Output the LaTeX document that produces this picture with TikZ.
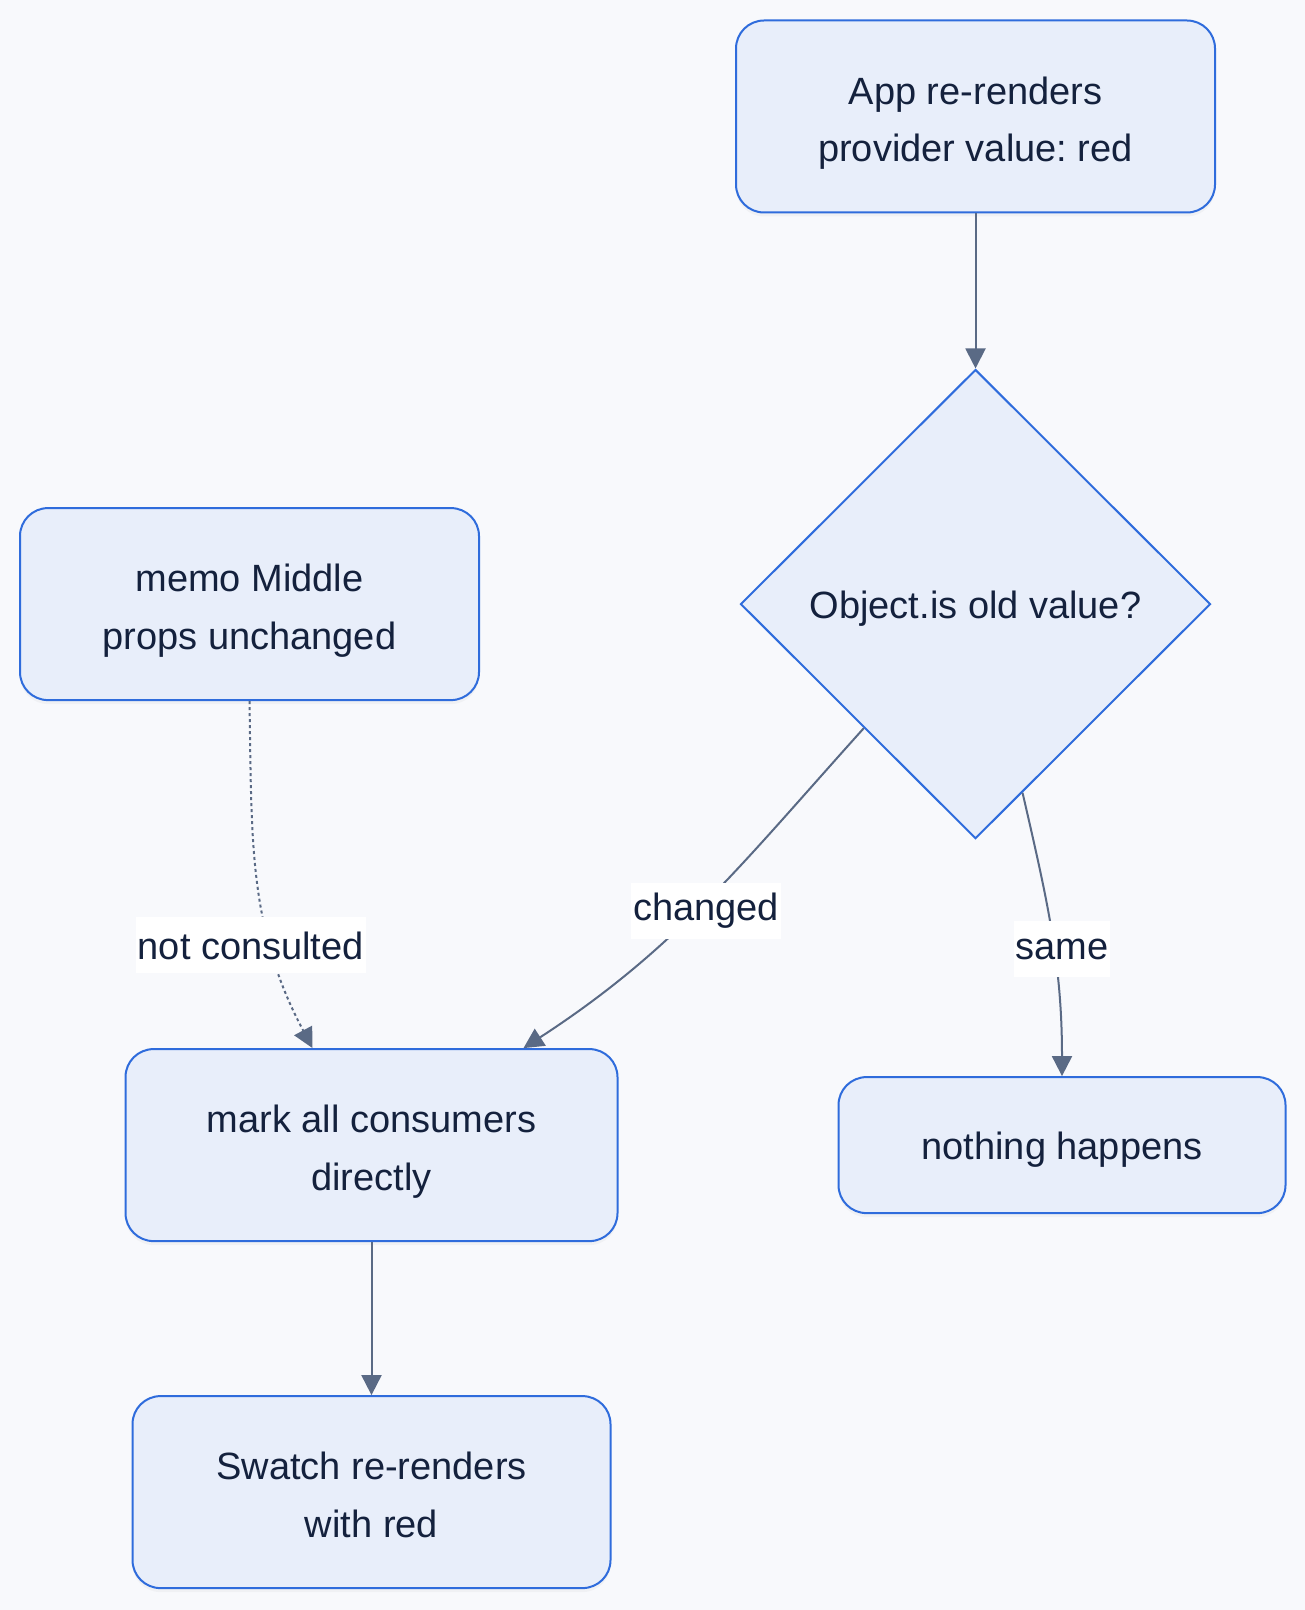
\documentclass[tikz,border=0pt]{standalone}
\usepackage{fontspec}
\setmainfont{Liberation Sans}
\usepackage{xcolor}
\usetikzlibrary{shapes.geometric,arrows.meta,positioning,shadows}

\definecolor{bgcol}{HTML}{F8F9FC}
\definecolor{boxfill}{HTML}{E8EEFA}
\definecolor{boxline}{HTML}{2F6CDC}
\definecolor{edgecol}{HTML}{5A6A85}
\definecolor{inkcol}{HTML}{14213D}

\newcommand\boxstrut{\rule[-5.6pt]{0pt}{25.6pt}}
\newcommand\topstrut{\rule{0pt}{22.2pt}}
\frenchspacing

\begin{document}
\begin{tikzpicture}[>={Triangle[length=10pt,width=10pt]},
  nodes={text=inkcol,font=\fontsize{19}{28.75}\selectfont},
  box/.style={rectangle,rounded corners=14pt,draw=boxline,fill=boxfill,line width=1pt,align=center,minimum height=96pt,
    execute at end node=\boxstrut,
    drop shadow={shadow xshift=0pt,shadow yshift=-2pt,opacity=.06}},
  check/.style={diamond,draw=boxline,fill=boxfill,line width=1pt,minimum width=235pt,minimum height=234.6pt,inner sep=0pt,
    execute at begin node=\boxstrut},
  lbl/.style={fill=white,inner xsep=1pt,inner ysep=0pt,minimum height=28pt}]
 \fill[bgcol] (0,0) rectangle (652.5pt,-805pt);

 \node[box,minimum width=239.5pt] (app) at (487.75pt,-58.25pt) {\topstrut App re-renders\\provider value: red};
 \node[check] (obj) [below=77.5pt of app] {Object.is old value?};
 \node[box,minimum width=229.5pt] (memo) [left=129.75pt of obj] {\topstrut memo Middle\\props unchanged};
 \node[box,minimum width=246pt] (mark) [below=173.5pt of memo,xshift=61pt] {\topstrut mark all consumers\\directly};
 \node[box,minimum width=223.5pt,minimum height=68pt] (none) [right=109.5pt of mark] {nothing happens};
 \node[box,minimum width=239pt] (swatch) [below=76.5pt of mark] {\topstrut Swatch re-renders\\with red};

  \path[every edge/.style={draw=edgecol,line width=1pt,->}]
  (app) edge (obj)
  (obj.-132) edge[out=-132,in=33] node[lbl,pos=.53,xshift=5pt] {changed} ([xshift=76pt]mark.north)
  (obj.-76) edge[out=-77,in=90] node[lbl,pos=.56,xshift=4pt] {same} (none.north)
  (memo.south) edge[dash pattern=on 1.5pt off 1.5pt,out=-89,in=118] node[lbl,pos=.7,xshift=-10pt] {not consulted} ([xshift=-29.5pt]mark.north)
  (mark) edge (swatch)
  ;
\end{tikzpicture}
\end{document}
